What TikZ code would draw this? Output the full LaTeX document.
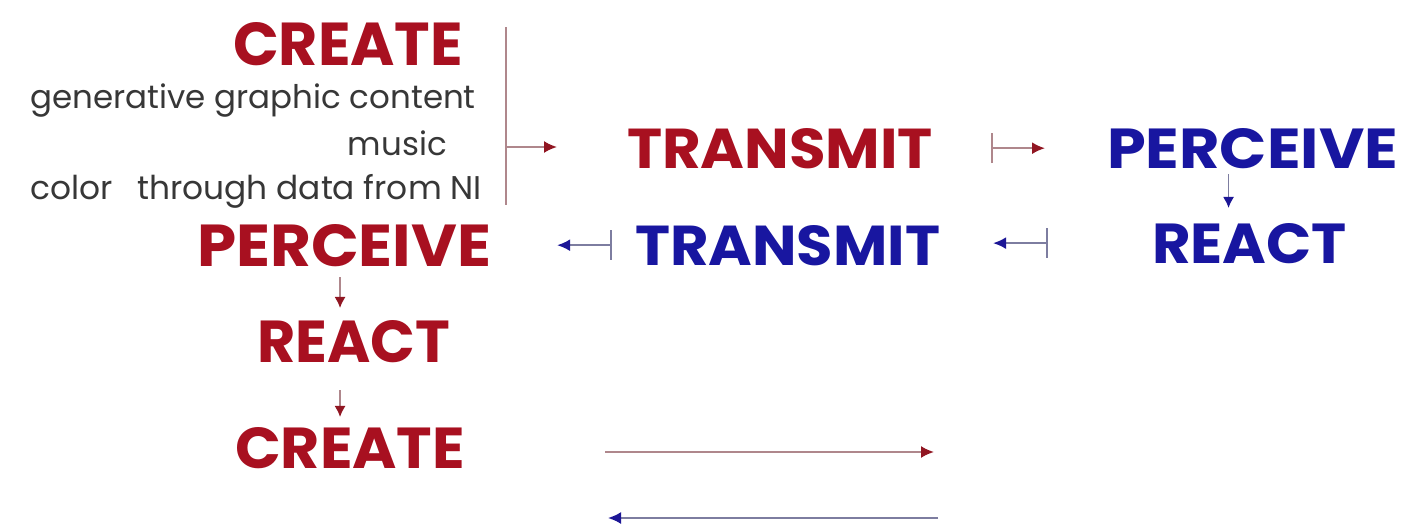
\documentclass[tikz,border=0pt]{standalone}
\usepackage{fontspec}
\setmainfont{Poppins}
\usetikzlibrary{arrows.meta}

\definecolor{wordred}{RGB}{168,16,32}
\definecolor{wordblue}{RGB}{24,22,160}
\definecolor{notegray}{RGB}{55,55,55}
\definecolor{redline}{RGB}{175,135,140}
\definecolor{redhead}{RGB}{145,22,34}
\definecolor{blueline}{RGB}{125,125,160}
\definecolor{bluehead}{RGB}{28,22,150}

% a bold capital word stretched to a given box
\newcommand{\fitword}[3]{\resizebox{#1}{#2}{\bfseries #3}}

\begin{document}
\begin{tikzpicture}[x=1pt,y=-1pt,
  word/.style={inner sep=0pt, outer sep=0pt, anchor=base west},
  redword/.style={word, text=wordred},
  blueword/.style={word, text=wordblue},
  note/.style={inner sep=0pt, anchor=base east, text=notegray,
               font=\fontsize{32.5}{36}\selectfont},
  redarrow/.style={draw=redline, line width=2pt,
                   -{Latex[length=13pt,width=12pt,color=redhead]}},
  bluearrow/.style={draw=blueline, line width=2pt,
                   -{Latex[length=13pt,width=12pt,color=bluehead]}},
  redbar/.style={draw=redline, line width=2pt,
                 {Bar[width=30pt,color=redline]}-{Latex[length=13pt,width=12pt,color=redhead]}},
  bluebar/.style={draw=blueline, line width=2pt,
                 {Bar[width=30pt,color=blueline]}-{Latex[length=13pt,width=12pt,color=bluehead]}},
  smallred/.style={draw=redline, line width=1.6pt,
                   -{Latex[length=11pt,width=11pt,color=redhead]}},
  smallblue/.style={draw=blueline, line width=1.6pt,
                   -{Latex[length=11pt,width=11pt,color=bluehead]}}
]
\useasboundingbox[fill=white] (0,0) rectangle (1409,530);

% first side: create, with its notes
\node[redword] (c1) at (233,65) {\fitword{230pt}{43pt}{CREATE}};
\node[note] (n1) at (476,108) {generative graphic content};
\node[note] (n2) at (447,155) {music};
\node[note] (n3) at (482,199) {\resizebox{451pt}{!}{color\hspace{24pt}through data from NI}};

% bracket gathering the notes
\coordinate (btop) at (506,27);
\coordinate (bbot) at (506,205);
\coordinate (bmid) at (506,147);
\draw[redline, line width=2pt] (btop) -- (bbot);

% first row
\node[redword]  (t1) at (627,168) {\fitword{306pt}{40pt}{TRANSMIT}};
\node[blueword] (p2) at (1107,168) {\fitword{291pt}{40pt}{PERCEIVE}};

% second row
\node[redword]  (p1) at (197,266) {\fitword{294pt}{42pt}{PERCEIVE}};
\node[blueword] (t2) at (635,265) {\fitword{305pt}{40pt}{TRANSMIT}};
\node[blueword] (r2) at (1152,263) {\fitword{195pt}{40pt}{REACT}};

% the rest of the first side
\node[redword] (r1) at (257,362) {\fitword{193pt}{42pt}{REACT}};
\node[redword] (c3) at (235,468) {\fitword{230pt}{41pt}{CREATE}};

% connectors
\draw[redarrow, shorten >=70pt] (bmid) -- (bmid -| t1.west);
\draw[redbar, shorten <=58pt, shorten >=62pt] (t1.east) -- (t1.east -| p2.west);
\draw[smallblue, shorten <=6pt, shorten >=15pt] ([xshift=-24pt]p2.south) -- ([xshift=-24pt]p2.south |- r2.north);
\draw[bluebar, shorten <=104pt, shorten >=53pt] (r2.west) -- (r2.west -| t2.east);
\draw[bluebar, shorten <=23pt, shorten >=66pt] (t2.west) -- (t2.west -| p1.east);
\draw[smallred, shorten <=11pt, shorten >=12pt] ([xshift=-4pt]p1.south) -- ([xshift=-4pt]p1.south |- r1.north);
\draw[smallred, shorten <=28pt, shorten >=10pt] ([xshift=-4pt]p1.south |- r1.south) -- ([xshift=-4pt]p1.south |- c3.north);

% legend arrows
\coordinate (la) at (605,452);
\coordinate (lb) at (934,452);
\coordinate (lc) at (938,518);
\coordinate (ld) at (608,518);
\draw[redarrow] (la) -- (lb);
\draw[bluearrow] (lc) -- (ld);
\end{tikzpicture}
\end{document}
